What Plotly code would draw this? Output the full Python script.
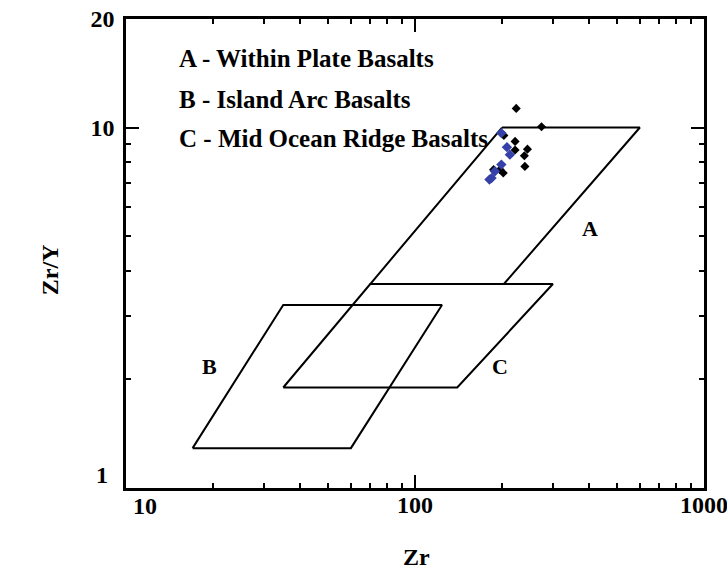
import numpy as np
import plotly.graph_objects as go

# Discrimination fields (Zr in ppm, Zr/Y ratio)
field_a_zr = [200, 600, 203, 70, 200]
field_a_zry = [10, 10, 3.68, 3.68, 10]
field_b_zr = [17, 60, 124, 35, 17]
field_b_zry = [1.29, 1.29, 3.22, 3.22, 1.29]
field_c_zr = [35, 140, 300, 70, 35]
field_c_zry = [1.9, 1.9, 3.68, 3.68, 1.9]

# Samples
black_zr = [224, 274, 203, 222, 222, 245, 239, 240, 187, 197, 202]
black_zry = [11.3, 10.05, 9.5, 9.15, 8.66, 8.71, 8.35, 7.80, 7.64, 7.64, 7.48]
blue_zr = [199, 208, 213, 199, 189, 184, 181]
blue_zry = [9.65, 8.82, 8.41, 7.89, 7.56, 7.24, 7.17]

legend_lines = ["A - Within Plate Basalts", "B - Island Arc Basalts",
                "C - Mid Ocean Ridge Basalts"]
x_ticks = [10, 100, 1000]
x_ticktext = ["", "100", "1000"]
y_ticks = [1, 10, 20]
y_ticktext = ["", "10", "20"]
x_minor = [v * d for d in (10, 100) for v in range(2, 10)]
y_minor = list(range(2, 10))

FONT = "Liberation Serif"
fig = go.Figure()

for zr, zry in [(field_a_zr, field_a_zry), (field_b_zr, field_b_zry),
                (field_c_zr, field_c_zry)]:
    fig.add_trace(go.Scatter(x=zr, y=zry, mode="lines",
                             line=dict(color="black", width=2),
                             hoverinfo="skip", showlegend=False))

fig.add_trace(go.Scatter(x=black_zr, y=black_zry, mode="markers",
                         marker=dict(symbol="diamond", size=7, color="black"),
                         showlegend=False))
fig.add_trace(go.Scatter(x=blue_zr, y=blue_zry, mode="markers",
                         marker=dict(symbol="diamond", size=8, color="#3540a8"),
                         showlegend=False))

tickfont = dict(family=FONT, size=24, color="black", weight="bold")

fig.update_xaxes(type="log", range=[1, 3], showline=True, linecolor="black",
                 linewidth=2.5, mirror="ticks", ticks="inside", ticklen=13,
                 tickwidth=2, tickcolor="black", tickvals=x_ticks,
                 ticktext=x_ticktext, tickfont=tickfont, ticklabelstandoff=-7,
                 ticklabeloverflow="allow",
                 showgrid=False, zeroline=False, automargin=False,
                 minor=dict(ticks="inside", ticklen=5, tickwidth=2,
                            tickcolor="black", tickvals=x_minor, showgrid=False))
fig.update_yaxes(type="log", range=[0, np.log10(20)], showline=True,
                 linecolor="black", linewidth=2.5, mirror="ticks",
                 ticks="inside", ticklen=13, tickwidth=2, tickcolor="black",
                 tickvals=y_ticks, ticktext=y_ticktext, tickfont=tickfont,
                 ticklabelstandoff=4, ticklabeloverflow="allow",
                 showgrid=False, zeroline=False, automargin=False,
                 minor=dict(ticks="inside", ticklen=5, tickwidth=2,
                            tickcolor="black", tickvals=y_minor, showgrid=False))

ann = []
text_font = dict(family=FONT, size=25, color="black", weight="bold")
label_font = dict(family=FONT, size=22, color="black", weight="bold")


def note(text, x, y, font, xanchor="center", **kw):
    ann.append(dict(text=text, xref="paper", yref="paper", x=x, y=y,
                    xanchor=xanchor, yanchor="middle", showarrow=False,
                    font=font, **kw))


for line, py in zip(legend_lines, [0.915, 0.829, 0.746]):
    note(line, 0.088, py, text_font, xanchor="left")
for label, px, py in [("A", 0.803, 0.554), ("B", 0.145, 0.258),
                      ("C", 0.647, 0.258)]:
    note(label, px, py, label_font)
# corner tick labels offset away from the shared origin
note("10", 0.033, -0.038, tickfont)
note("1", -0.028, 0.028, tickfont, xanchor="right")
# axis titles
note("Zr/Y", -0.131, 0.465, tickfont, textangle=-90)
note("Zr", 0.503, -0.147, tickfont)

fig.update_layout(width=727, height=571, plot_bgcolor="white",
                  paper_bgcolor="white", annotations=ann,
                  margin=dict(l=126, r=23, t=19, b=83))

fig.write_html("out.html")
